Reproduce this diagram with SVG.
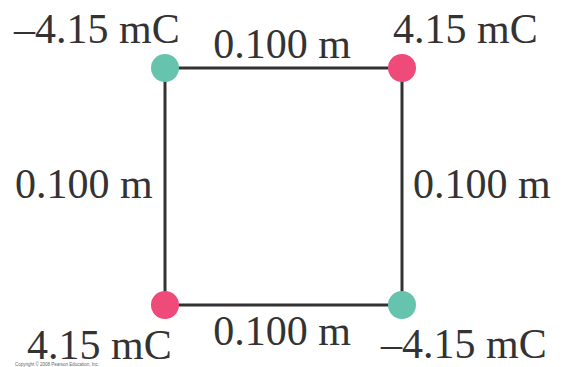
<svg xmlns="http://www.w3.org/2000/svg" width="562" height="367" viewBox="0 0 562 367">
<style>
.t{font-family:"Liberation Serif","Times New Roman",serif;font-size:42px;fill:#333}
.ln{stroke:#333;stroke-width:3;fill:none}
.neg{fill:#66C4AE}
.pos{fill:#EE4A7A}
.cp{font-family:"Liberation Sans",Arial,sans-serif;font-size:4.5px;fill:#666}
</style>
<rect width="562" height="367" fill="#fff"/>
<g id="connectors">
<line class="ln" x1="165" y1="68" x2="402" y2="68"/>
<line class="ln" x1="402" y1="68" x2="402" y2="305"/>
<line class="ln" x1="165" y1="305" x2="402" y2="305"/>
<line class="ln" x1="165" y1="68" x2="165" y2="305"/>
</g>
<g id="edge-labels">
<text class="t" x="282" y="58" text-anchor="middle">0.100 m</text>
<text class="t" x="15" y="198">0.100 m</text>
<text class="t" x="413" y="198">0.100 m</text>
<text class="t" x="282" y="345" text-anchor="middle">0.100 m</text>
</g>
<g id="q-top-left">
<circle class="neg" cx="165" cy="68" r="14"/>
<text class="t" x="14" y="43">–4.15 mC</text>
</g>
<g id="q-top-right">
<circle class="pos" cx="402" cy="68" r="14"/>
<text class="t" x="393" y="43">4.15 mC</text>
</g>
<g id="q-bottom-left">
<circle class="pos" cx="165" cy="305" r="14"/>
<text class="t" x="27" y="359">4.15 mC</text>
</g>
<g id="q-bottom-right">
<circle class="neg" cx="402" cy="305" r="14"/>
<text class="t" x="381" y="358">–4.15 mC</text>
</g>
<text class="cp" x="15" y="366">Copyright © 2008 Pearson Education, Inc.</text>
</svg>
